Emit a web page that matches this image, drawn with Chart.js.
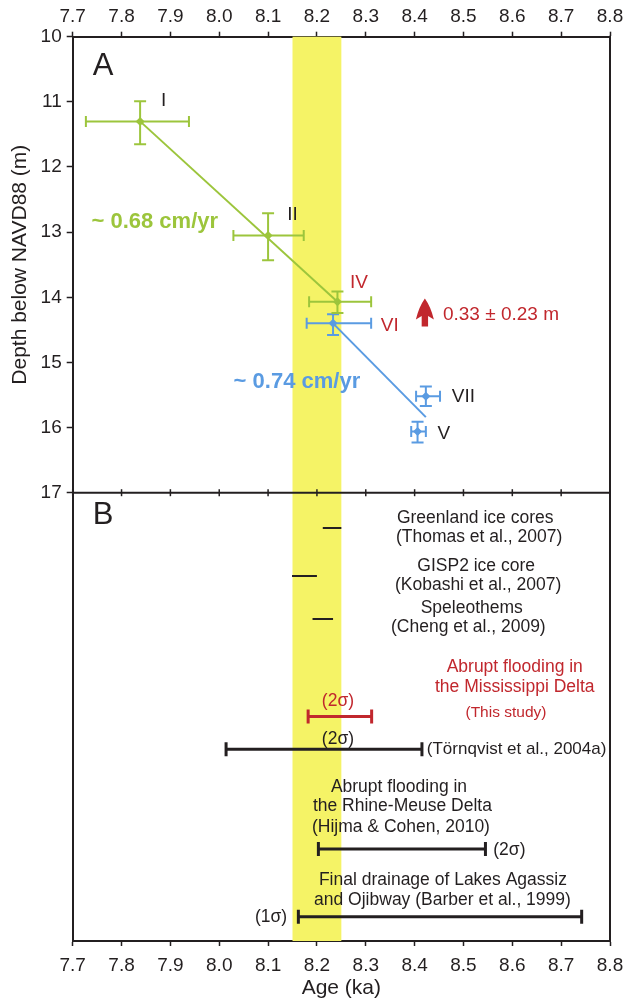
<!DOCTYPE html>
<html><head><meta charset="utf-8">
<script src="https://cdn.jsdelivr.net/npm/chart.js@4.4.1/dist/chart.umd.min.js"></script>
<style>html,body{margin:0;padding:0;background:#fff;}#wrap{width:626px;height:1002px;}</style>
</head><body><div id="wrap"><canvas id="c" width="626" height="1002"></canvas></div>
<script>
// ---------- data ----------
const ageTicks = [7.7, 7.8, 7.9, 8.0, 8.1, 8.2, 8.3, 8.4, 8.5, 8.6, 8.7, 8.8];
const depthTicks = [10, 11, 12, 13, 14, 15, 16, 17];

// Panel A – green samples (I, II, IV)
const greenNames = ['I', 'II', 'IV'];
const greenAge = [7.838, 8.100, 8.242];
const greenAgeLo = [7.727, 8.029, 8.184];
const greenAgeHi = [7.938, 8.173, 8.311];
const greenDepth = [11.30, 13.05, 14.07];
const greenDepthLo = [10.99, 12.71, 13.91];
const greenDepthHi = [11.65, 13.43, 14.24];

// Panel A – blue samples (VI, VII, V)
const blueNames = ['VI', 'VII', 'V'];
const blueAge = [8.233, 8.423, 8.406];
const blueAgeLo = [8.179, 8.403, 8.393];
const blueAgeHi = [8.311, 8.452, 8.423];
const blueDepth = [14.40, 15.52, 16.06];
const blueDepthLo = [14.26, 15.37, 15.91];
const blueDepthHi = [14.58, 15.67, 16.23];

// trend lines
const greenTrendAge = [7.838, 8.242];
const greenTrendDepth = [11.30, 14.07];
const blueTrendAge = [8.233, 8.423];
const blueTrendDepth = [14.40, 15.84];

// 8.2 ka event band and jump arrow
const eventBand = [8.15, 8.25];
const jumpAge = 8.421;
const jumpDepth = [14.45, 14.02];

// Panel B – records (row index down the panel)
const shortNames = ['Greenland', 'GISP2', 'Speleothems'];
const shortRow = [0.79, 1.86, 2.82];
const shortStart = [8.212, 8.149, 8.191];
const shortEnd = [8.250, 8.200, 8.233];

const rangeNames = ['This study', 'Törnqvist', 'Hijma', 'Barber'];
const rangeRow = [4.99, 5.72, 7.95, 9.46];
const rangeStart = [8.182, 8.014, 8.203, 8.162];
const rangeEnd = [8.312, 8.415, 8.545, 8.742];

// ---------- style ----------
const INK = '#231f20', GREEN = '#9cc53c', BLUE = '#5a9be2', RED = '#c1272d', YEL = '#f5f366';
const FAM = '"Liberation Sans", Arial, Helvetica, sans-serif';

// ---------- datasets ----------
const datasets = [];
function seg(x0, y0, x1, y1, color, width, capR, rot, axis) {
  datasets.push({
    type: 'line', yAxisID: axis, data: [{x: x0, y: y0}, {x: x1, y: y1}],
    borderColor: color, borderWidth: width, pointStyle: 'line', pointRotation: rot,
    pointRadius: capR, pointBorderColor: color, pointBorderWidth: width, pointHoverRadius: capR
  });
}
function samples(age, lo, hi, dep, dlo, dhi, color) {
  for (let i = 0; i < age.length; i++) {
    seg(lo[i], dep[i], hi[i], dep[i], color, 2, 5.5, 90, 'y');
    seg(age[i], dlo[i], age[i], dhi[i], color, 2, 6, 0, 'y');
  }
  datasets.push({
    type: 'line', yAxisID: 'y', showLine: false,
    data: age.map((a, i) => ({x: a, y: dep[i]})),
    pointStyle: 'rectRot', pointRadius: 4.5, backgroundColor: color, borderColor: color, pointBorderWidth: 0
  });
}
datasets.push({type: 'line', yAxisID: 'y', data: greenTrendAge.map((a, i) => ({x: a, y: greenTrendDepth[i]})),
  borderColor: GREEN, borderWidth: 2, pointRadius: 0});
datasets.push({type: 'line', yAxisID: 'y', data: blueTrendAge.map((a, i) => ({x: a, y: blueTrendDepth[i]})),
  borderColor: BLUE, borderWidth: 2, pointRadius: 0});
samples(greenAge, greenAgeLo, greenAgeHi, greenDepth, greenDepthLo, greenDepthHi, GREEN);
samples(blueAge, blueAgeLo, blueAgeHi, blueDepth, blueDepthLo, blueDepthHi, BLUE);
for (let i = 0; i < shortRow.length; i++) seg(shortStart[i], shortRow[i], shortEnd[i], shortRow[i], INK, 2, 0, 90, 'yB');
for (let i = 0; i < rangeRow.length; i++) seg(rangeStart[i], rangeRow[i], rangeEnd[i], rangeRow[i], i === 0 ? RED : INK, 3, 7, 90, 'yB');

// ---------- text annotations (data coordinates) ----------
const notesA = [
  {t: 'A', x: 7.762, y: 10.45, c: INK, f: '31px'},
  {t: 'I', x: 7.886, y: 10.98, c: INK, f: '19px'},
  {t: 'II', x: 8.150, y: 12.74, c: INK, f: '19px'},
  {t: 'IV', x: 8.286, y: 13.77, c: RED, f: '19px'},
  {t: 'VI', x: 8.349, y: 14.44, c: RED, f: '19px'},
  {t: 'VII', x: 8.500, y: 15.52, c: INK, f: '19px'},
  {t: 'V', x: 8.460, y: 16.09, c: INK, f: '19px'},
  {t: '~ 0.68 cm/yr', x: 7.868, y: 12.84, c: GREEN, f: 'bold 22px'},
  {t: '~ 0.74 cm/yr', x: 8.159, y: 15.30, c: BLUE, f: 'bold 22px'},
  {t: '0.33 ± 0.23 m', x: 8.458, y: 14.27, c: RED, f: '19px', a: 'left'}
];
const notesB = [
  {t: 'B', x: 7.762, y: 0.50, c: INK, f: '31px'},
  {t: 'Greenland ice cores', x: 8.524, y: 0.56, c: INK, f: '17.5px'},
  {t: '(Thomas et al., 2007)', x: 8.532, y: 0.99, c: INK, f: '17.5px'},
  {t: 'GISP2 ice core', x: 8.526, y: 1.63, c: INK, f: '17.5px'},
  {t: '(Kobashi et al., 2007)', x: 8.530, y: 2.07, c: INK, f: '17.5px'},
  {t: 'Speleothems', x: 8.517, y: 2.57, c: INK, f: '17.5px'},
  {t: '(Cheng et al., 2009)', x: 8.510, y: 3.01, c: INK, f: '17.5px'},
  {t: 'Abrupt flooding in', x: 8.605, y: 3.89, c: RED, f: '17.5px'},
  {t: 'the Mississippi Delta', x: 8.605, y: 4.33, c: RED, f: '17.5px'},
  {t: '(This study)', x: 8.587, y: 4.91, c: RED, f: '15.5px'},
  {t: '(2σ)', x: 8.243, y: 4.66, c: RED, f: '17.5px'},
  {t: '(2σ)', x: 8.243, y: 5.49, c: INK, f: '17.5px'},
  {t: '(Törnqvist et al., 2004a)', x: 8.425, y: 5.72, c: INK, f: '17px', a: 'left'},
  {t: 'Abrupt flooding in', x: 8.368, y: 6.56, c: INK, f: '17.5px'},
  {t: 'the Rhine-Meuse Delta', x: 8.375, y: 6.99, c: INK, f: '17.5px'},
  {t: '(Hijma & Cohen, 2010)', x: 8.372, y: 7.45, c: INK, f: '17.5px'},
  {t: '(2σ)', x: 8.594, y: 7.97, c: INK, f: '17.5px'},
  {t: 'Final drainage of Lakes Agassiz', x: 8.458, y: 8.64, c: INK, f: '17.5px'},
  {t: 'and Ojibway (Barber et al., 1999)', x: 8.457, y: 9.10, c: INK, f: '17.5px'},
  {t: '(1σ)', x: 8.106, y: 9.46, c: INK, f: '17.5px'}
];

const decor = {
  id: 'decor',
  beforeDatasetsDraw(chart) {
    const {ctx, chartArea: ca, scales: {x}} = chart;
    ctx.save();
    ctx.fillStyle = YEL;
    const x0 = x.getPixelForValue(eventBand[0]), x1 = x.getPixelForValue(eventBand[1]);
    ctx.fillRect(x0, ca.top, x1 - x0, ca.bottom - ca.top);
    ctx.restore();
  },
  afterDatasetsDraw(chart) {
    const {ctx, chartArea: ca, scales: {x, y, yB}} = chart;
    ctx.save();
    // frame
    ctx.strokeStyle = INK; ctx.lineWidth = 2;
    ctx.beginPath();
    ctx.moveTo(ca.right, ca.top - 1); ctx.lineTo(ca.right, ca.bottom + 1);
    ctx.stroke();
    // divider between panels with ticks
    const yd = y.getPixelForValue(17);
    ctx.beginPath(); ctx.moveTo(ca.left, yd); ctx.lineTo(ca.right, yd); ctx.stroke();
    ctx.lineWidth = 1.5;
    ageTicks.forEach(v => {
      const px = x.getPixelForValue(v);
      ctx.beginPath(); ctx.moveTo(px, yd - 3.5); ctx.lineTo(px, yd + 3.5); ctx.stroke();
    });
    // arrow
    const ax = x.getPixelForValue(jumpAge), ab = y.getPixelForValue(jumpDepth[0]), at = y.getPixelForValue(jumpDepth[1]);
    const h = ab - at;
    ctx.fillStyle = RED;
    ctx.beginPath();
    ctx.moveTo(ax, at);
    ctx.quadraticCurveTo(ax + 6, at + h * 0.3, ax + 9, at + h * 0.75);
    ctx.lineTo(ax + 3.2, at + h * 0.62);
    ctx.lineTo(ax + 3.2, ab);
    ctx.lineTo(ax - 3.2, ab);
    ctx.lineTo(ax - 3.2, at + h * 0.62);
    ctx.lineTo(ax - 9, at + h * 0.75);
    ctx.quadraticCurveTo(ax - 6, at + h * 0.3, ax, at);
    ctx.fill();
    // texts
    ctx.textBaseline = 'middle';
    const put = (n, ys) => {
      ctx.font = n.f + ' ' + FAM;
      ctx.fillStyle = n.c;
      ctx.textAlign = n.a || 'center';
      ctx.fillText(n.t, x.getPixelForValue(n.x), ys.getPixelForValue(n.y));
    };
    notesA.forEach(n => put(n, y));
    notesB.forEach(n => put(n, yB));
    ctx.restore();
  }
};

const tickFont = {family: FAM, size: 19};
const xCommon = (pos, h, pad) => ({
  type: 'linear', position: pos, min: 7.7, max: 8.8,
  afterBuildTicks: s => { s.ticks = ageTicks.map(v => ({value: v})); },
  afterFit: s => { s.height = h; s.paddingLeft = 0; s.paddingRight = 0; },
  ticks: {callback: v => v.toFixed(1), font: tickFont, color: INK, padding: pad, maxRotation: 0, autoSkip: false},
  grid: {drawOnChartArea: false, drawTicks: true, tickLength: 5, tickWidth: 1.5, tickColor: INK},
  border: {display: true, color: INK, width: 2}
});
const xBottom = xCommon('bottom', 61, 8);
xBottom.title = {display: true, text: 'Age (ka)', font: {family: FAM, size: 21}, color: INK, padding: {top: 0, bottom: 1}};

new Chart(document.getElementById('c'), {
  type: 'line',
  data: {datasets},
  options: {
    responsive: false, animation: false, devicePixelRatio: 1,
    layout: {padding: {left: 0, right: 16, top: 0, bottom: 0}},
    plugins: {legend: {display: false}, tooltip: {enabled: false}},
    events: [],
    scales: {
      x: xBottom,
      xTop: xCommon('top', 36.7, 4),
      yB: {
        type: 'linear', position: 'left', stack: 'v', stackWeight: 448.3, weight: 0,
        reverse: true, min: 0, max: 10,
        afterFit: s => { s.width = 72.7; },
        ticks: {display: false}, grid: {display: false, drawTicks: false},
        border: {display: true, color: INK, width: 2}
      },
      y: {
        type: 'linear', position: 'left', stack: 'v', stackWeight: 456, weight: 1,
        reverse: true, min: 10, max: 17,
        afterBuildTicks: s => { s.ticks = depthTicks.map(v => ({value: v})); },
        afterFit: s => { s.width = 72.7; },
        ticks: {font: tickFont, color: INK, padding: 5},
        grid: {drawOnChartArea: false, drawTicks: true, tickLength: 6, tickWidth: 1.5, tickColor: INK},
        border: {display: true, color: INK, width: 2},
        title: {display: true, text: 'Depth below NAVD88 (m)', font: {family: FAM, size: 21}, color: INK, padding: {top: 8, bottom: 0}}
      }
    }
  },
  plugins: [decor]
});
</script></body></html>
